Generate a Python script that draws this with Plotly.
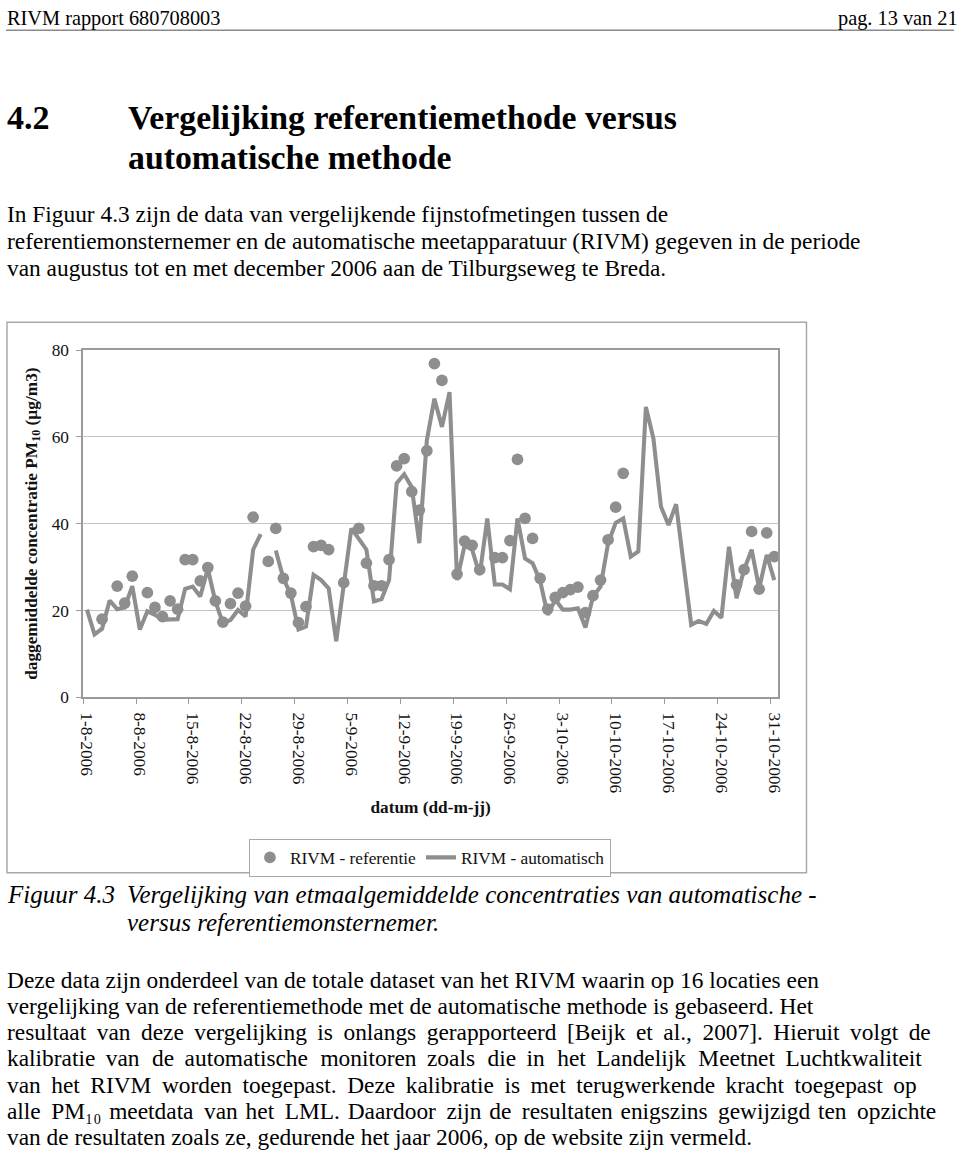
import pandas as pd
import plotly.graph_objects as go

# ---------------- data ----------------
dates = pd.date_range("2006-08-01", "2006-10-31", freq="D")

automatisch = [
    20.2, 14.5, 15.8, 22.3, 20.3, 20.7, 25.6, 15.6, 19.8, 19.0,
    17.9, 18.0, 18.0, 25.0, 25.5, 23.2, 29.6, 22.1, 17.1, 17.8,
    20.1, 18.6, 34.0, 37.6, None, 33.8, 27.4, 23.6, 15.6, 16.3,
    28.2, 27.0, 25.1, 12.9, 26.3, 38.9, 36.5, 34.0, 22.1, 22.6,
    27.0, 49.3, 51.4, 48.4, 35.5, 59.2, 68.8, 62.3, 70.3, 27.0,
    35.0, 34.0, 28.2, 41.2, 26.0, 26.0, 24.9, 41.2, 32.0, 30.9,
    26.8, 19.0, 22.5, 20.2, 20.2, 20.5, 16.1, 23.2, 25.5, 35.5,
    40.2, 41.2, 32.4, 33.6, 66.9, 59.6, 43.9, 39.7, 44.5, 30.1,
    16.7, 17.6, 16.9, 19.9, 18.3, 34.7, 22.8, 29.4, 34.0, 25.1,
    32.8, 27.0,
]

referentie = [
    None, None, 18.0, None, 25.6, 21.7, 27.9, None, 24.1, 20.7,
    18.6, 22.2, 20.3, 31.7, 31.7, 26.8, 29.9, 22.2, 17.3, 21.6,
    24.0, 21.0, 41.5, None, 31.3, 38.9, 27.4, 24.0, 17.2, 20.9,
    34.7, 35.0, 34.0, None, 26.4, None, 38.9, 30.9, 25.7, 25.7,
    31.7, 53.3, 55.0, 47.4, 43.1, 56.8, 76.9, 73.0, None, 28.4,
    36.0, 35.0, 29.4, None, 32.2, 32.2, 36.1, 54.8, 41.2, 36.6,
    27.4, 20.3, 23.0, 24.1, 24.8, 25.4, 19.5, 23.4, 27.0, 36.3,
    43.8, 51.6, None, None, None, None, None, None, None, None,
    None, None, None, None, None, None, 25.9, 29.4, 38.2, 24.9,
    37.9, 32.4,
]

tick_dates = dates[::7]
tick_labels = [f"{d.day}-{d.month}-{d.year}" for d in tick_dates]
y_ticks = [0, 20, 40, 60, 80]

header_left = "RIVM rapport 680708003"
header_right = "pag. 13 van 21"
heading_num = "4.2"
heading_lines = ["Vergelijking referentiemethode versus", "automatische methode"]
intro_lines = [
    "In Figuur 4.3 zijn de data van vergelijkende fijnstofmetingen tussen de",
    "referentiemonsternemer en de automatische meetapparatuur (RIVM) gegeven in de periode",
    "van augustus tot en met december 2006 aan de Tilburgseweg te Breda.",
]
caption_label = "Figuur 4.3"
caption_lines = [
    "Vergelijking van etmaalgemiddelde concentraties van automatische -",
    "versus referentiemonsternemer.",
]
para_lines = [
    "Deze data zijn onderdeel van de totale dataset van het RIVM waarin op 16 locaties een",
    "vergelijking van de referentiemethode met de automatische methode is gebaseerd. Het",
    "resultaat van deze vergelijking is onlangs gerapporteerd [Beijk et al., 2007]. Hieruit volgt de",
    "kalibratie van de automatische monitoren zoals die in het Landelijk Meetnet Luchtkwaliteit",
    "van het RIVM worden toegepast. Deze kalibratie is met terugwerkende kracht toegepast op",
    "alle PM₁₀ meetdata van het LML. Daardoor zijn de resultaten enigszins gewijzigd ten opzichte",
    "van de resultaten zoals ze, gedurende het jaar 2006, op de website zijn vermeld.",
]

# ---------------- layout helpers ----------------
W, H = 960, 1154
S = 1 / 0.983          # compensates the slight shrink seen in the photographed page
def tx(x):
    return 480 + (x - 480) * S
def ty(y):
    return 577 + (y - 577) * S
def px(x, clamp=True):
    v = tx(x)
    if clamp:
        v = max(v, 0)
    return v / W
def py(y):
    return 1 - ty(y) / H

SERIF = "Liberation Serif, Times New Roman, serif"
GREY = "#8e8e8e"
half_day = pd.Timedelta(hours=12)
x_range = [dates[0] - half_day, dates[-1] + half_day]
boundary_ticks = [d - half_day for d in tick_dates]

fig = go.Figure()
fig.add_trace(go.Scatter(
    x=dates, y=referentie, mode="markers", name="RIVM - referentie",
    marker=dict(color=GREY, size=11.5 * S, line=dict(width=0)),
))
fig.add_trace(go.Scatter(
    x=dates, y=automatisch, mode="lines", name="RIVM - automatisch",
    line=dict(color=GREY, width=4 * S), connectgaps=False,
))

fig.update_layout(
    width=W, height=H,
    margin=dict(l=0, r=0, t=0, b=0),
    paper_bgcolor="white", plot_bgcolor="white",
    font=dict(family=SERIF, size=17 * S, color="#111"),
    showlegend=True,
    legend=dict(
        orientation="h", x=px(250), y=py(839), xanchor="left", yanchor="top",
        bordercolor="#a8a8a8", borderwidth=1, bgcolor="white",
        font=dict(family=SERIF, size=17 * S, color="#111"),
        itemwidth=30,
    ),
    xaxis=dict(
        domain=[px(85), px(776.7)],
        range=x_range,
        tickmode="array", tickvals=list(tick_dates), ticktext=tick_labels,
        tickangle=90, ticks="", ticklabelstandoff=10,
        tickfont=dict(family=SERIF, size=17 * S, color="#111"),
        showgrid=False, zeroline=False,
        showline=True, linecolor="#9a9a9a", linewidth=1.5, mirror=True,
        minor=dict(tickmode="array", tickvals=boundary_ticks, ticks="outside",
                   ticklen=5, tickcolor="#9a9a9a", tickwidth=1, showgrid=False),
        title=dict(text="<b>datum (dd-m-jj)</b>", standoff=8,
                   font=dict(family=SERIF, size=17 * S, color="#111")),
    ),
    yaxis=dict(
        domain=[py(697.7), py(350.7)],
        range=[0, 80],
        tickmode="array", tickvals=y_ticks,
        ticks="outside", ticklen=5, tickcolor="#9a9a9a", ticklabelstandoff=4,
        tickfont=dict(family=SERIF, size=17 * S, color="#111"),
        showgrid=True, gridcolor="#c4c4c4", gridwidth=1,
        zeroline=False,
        showline=True, linecolor="#9a9a9a", linewidth=1.5, mirror=True,
        title=dict(text="<b>daggemiddelde concentratie PM<sub>10</sub> (µg/m3)</b>", standoff=10,
                   font=dict(family=SERIF, size=17 * S, color="#111")),
    ),
)

shapes = [
    dict(type="line", xref="paper", yref="paper", x0=0, x1=1, y0=py(31), y1=py(31),
         line=dict(color="#8a8a8a", width=1.5)),
    dict(type="rect", xref="paper", yref="paper", x0=max(px(7), 1 / W), x1=px(805),
         y0=py(873), y1=py(323),
         line=dict(color="#a8a8a8", width=1.5), fillcolor="rgba(0,0,0,0)", layer="below"),
]
fig.update_layout(shapes=shapes)

ann = []
def text(x, y, s, size=23.0, anchor="left", bold=False, italic=False, ymin=None):
    if bold:
        s = f"<b>{s}</b>"
    if italic:
        s = f"<i>{s}</i>"
    yy = py(y)
    if ymin is not None:
        yy = min(yy, 1 - ymin / H)
    ann.append(dict(x=px(x), y=yy, xref="paper", yref="paper", text=s, showarrow=False,
                    xanchor=anchor, yanchor="middle", borderpad=0,
                    font=dict(family=SERIF, size=size * S, color="#000")))

# extra inter-word spacing for the justified paragraph lines (thin / hair spaces)
THIN, HAIR = "\u2009", "\u200a"
justify = {2: [THIN], 3: [THIN, THIN + HAIR], 4: [THIN], 5: [THIN, HAIR]}
def justified(i, s):
    if i not in justify:
        return s
    fill = justify[i]
    words = s.split(" ")
    out = words[0]
    for k, w in enumerate(words[1:]):
        out += " " + fill[k % len(fill)] + w
    return out

text(0, 13, header_left, size=20, ymin=9.5)
text(957, 13, header_right, size=20, anchor="right", ymin=9.5)
text(0, 118, heading_num, size=33.5, bold=True)
for i, s in enumerate(heading_lines):
    text(129, 118 + 40 * i, s, size=33.2, bold=True)
for i, s in enumerate(intro_lines):
    text(0, 215 + 27 * i, s, size=23.0)
text(0, 895, caption_label, size=24.6, italic=True)
for i, s in enumerate(caption_lines):
    text(128, 895 + 28 * i, s, size=24.6, italic=True)
for i, s in enumerate(para_lines):
    text(0, 980 + 26.2 * i, justified(i, s), size=23.0)

fig.update_layout(annotations=ann)

page_css = (
    "var s=document.createElement('style');"
    "s.innerHTML='html,body{margin:0!important;padding:0!important;overflow:hidden!important;}';"
    "document.head.appendChild(s);"
)
fig.write_html("out.html", config={"displayModeBar": False}, post_script=page_css)
